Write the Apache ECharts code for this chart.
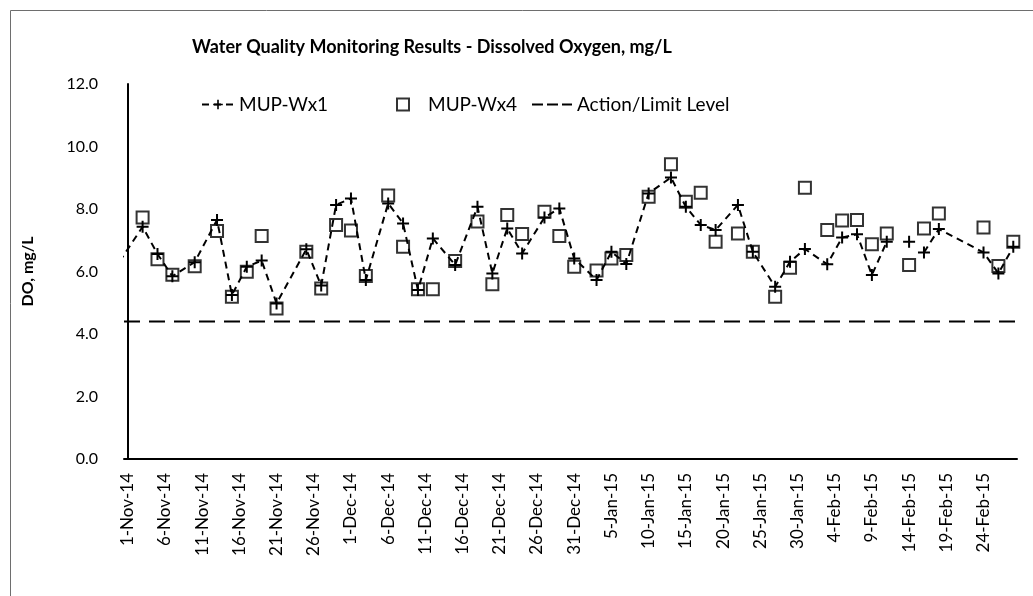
<!DOCTYPE html>
<html>
<head>
<meta charset="utf-8">
<script src="https://cdn.jsdelivr.net/npm/echarts@6/dist/echarts.min.js"></script>
<style>
  html, body { margin: 0; padding: 0; background: #fff; }
  #main { width: 1033px; height: 596px; }
</style>
</head>
<body>
<div id="main"></div>
<script>
// sample dates and DO readings (mg/L)
var wx1Dates = ['2014-10-30','2014-11-03','2014-11-05','2014-11-07','2014-11-10','2014-11-13','2014-11-15','2014-11-17','2014-11-19','2014-11-21',
  '2014-11-25','2014-11-27','2014-11-29','2014-12-01','2014-12-03','2014-12-06','2014-12-08','2014-12-10','2014-12-12','2014-12-15',
  '2014-12-18','2014-12-20','2014-12-22','2014-12-24','2014-12-27','2014-12-29','2014-12-31','2015-01-03','2015-01-05','2015-01-07',
  '2015-01-10','2015-01-13','2015-01-15','2015-01-17','2015-01-19','2015-01-22','2015-01-24','2015-01-27','2015-01-29','2015-01-31',
  '2015-02-03','2015-02-05','2015-02-07','2015-02-09','2015-02-11','2015-02-12','2015-02-14','2015-02-15','2015-02-16','2015-02-18',
  '2015-02-24','2015-02-26','2015-02-28'];
var wx1Values = [6.0,7.43,6.56,5.85,6.3,7.65,5.25,6.15,6.35,4.98,
  6.71,5.55,8.13,8.34,5.73,8.18,7.54,5.41,7.06,6.21,
  8.07,5.94,7.38,6.58,7.73,8.02,6.42,5.73,6.63,6.24,
  8.5,9.01,8.07,7.49,7.33,8.13,6.63,5.51,6.31,6.72,
  6.23,7.09,7.19,5.89,6.95,null,6.95,null,6.61,7.36,
  6.61,5.94,6.79];

var wx4Dates = ['2014-11-03','2014-11-05','2014-11-07','2014-11-10','2014-11-13','2014-11-15','2014-11-17','2014-11-19','2014-11-21',
  '2014-11-25','2014-11-27','2014-11-29','2014-12-01','2014-12-03','2014-12-06','2014-12-08','2014-12-10','2014-12-12','2014-12-15',
  '2014-12-18','2014-12-20','2014-12-22','2014-12-24','2014-12-27','2014-12-29','2014-12-31','2015-01-03','2015-01-05','2015-01-07',
  '2015-01-10','2015-01-13','2015-01-15','2015-01-17','2015-01-19','2015-01-22','2015-01-24','2015-01-27','2015-01-29','2015-01-31',
  '2015-02-03','2015-02-05','2015-02-07','2015-02-09','2015-02-11','2015-02-14','2015-02-16','2015-02-18',
  '2015-02-24','2015-02-26','2015-02-28'];
var wx4Values = [7.73,6.39,5.9,6.17,7.3,5.19,5.99,7.14,4.82,
  6.63,5.46,7.49,7.31,5.86,8.43,6.79,5.43,5.43,6.34,
  7.6,5.59,7.81,7.2,7.91,7.14,6.15,6.03,6.42,6.53,
  8.39,9.43,8.23,8.52,6.95,7.22,6.63,5.19,6.12,8.68,
  7.33,7.63,7.65,6.87,7.22,6.21,7.38,7.86,
  7.41,6.18,6.95];

var actionLevel = 4.4;
var axisStart = '2014-11-01';
var axisDays = 120;
var labelStep = 5;
var months = ['Jan','Feb','Mar','Apr','May','Jun','Jul','Aug','Sep','Oct','Nov','Dec'];

var font = 'Lato, Carlito, "Liberation Sans", sans-serif';
var t0 = Date.parse(axisStart + 'T00:00:00Z');
function dayIdx(s) { return Math.round((Date.parse(s + 'T00:00:00Z') - t0) / 864e5); }
function dayLabel(d) {
  var dt = new Date(t0 + d * 864e5);
  return dt.getUTCDate() + '-' + months[dt.getUTCMonth()] + '-' + String(dt.getUTCFullYear()).slice(2);
}

var wx1Data = wx1Dates.map(function (s, i) { return [dayIdx(s), wx1Values[i]]; });
var wx4Data = wx4Dates.map(function (s, i) { return [dayIdx(s), wx4Values[i]]; });
var labelDays = [];
for (var d = 0; d < axisDays; d += labelStep) labelDays.push(d);

var plus = 'path://M5,0h2v5h5v2h-5v5h-2v-5h-5v-2h5z';
// long dash legend icon (tiny corner specks keep the box size)
var dashIcon = 'path://M0,0h.1v.1h-.1zM0,5h11v2h-11zM15,5h11v2h-11zM30,5h10v2h-10zM39.9,11.9h.1v.1h-.1z';

var myChart = echarts.init(document.getElementById('main'));
myChart.setOption({
  animation: false,
  backgroundColor: '#fff',
  textStyle: { fontFamily: font, color: '#000' },
  title: {
    text: 'Water Quality Monitoring Results - Dissolved Oxygen, mg/L',
    left: 187, top: 33,
    textStyle: { fontFamily: font, fontSize: 18, fontWeight: 'bold', color: '#000' }
  },
  graphic: [{
    type: 'rect', left: 8, top: 8,
    shape: { width: 1100, height: 700 },
    style: { fill: 'none', stroke: '#6e6e6e', lineWidth: 1 }
  }],
  legend: [
    { data: ['MUP-Wx1'], left: 196, top: 90, itemWidth: 32, itemHeight: 12, itemGap: 0,
      textStyle: { fontFamily: font, fontSize: 19, color: '#000' } },
    { data: ['MUP-Wx4'], left: 391, top: 90, itemWidth: 12, itemHeight: 12, itemGap: 0,
      textStyle: { fontFamily: font, fontSize: 19, color: '#000', padding: [0, 0, 0, 14] } },
    { data: [{ name: 'Action/Limit Level', icon: dashIcon }], left: 527, top: 90, itemWidth: 40, itemHeight: 12, itemGap: 0,
      textStyle: { fontFamily: font, fontSize: 19, color: '#000' } }
  ],
  grid: { left: 124, right: 16, top: 84, bottom: 137 },
  xAxis: {
    type: 'value',
    min: -0.5, max: axisDays - 0.5,
    axisLine: { show: true, lineStyle: { color: '#000', width: 2 } },
    axisTick: { show: false },
    splitLine: { show: false },
    axisLabel: {
      customValues: labelDays,
      rotate: 90, margin: 14,
      fontFamily: font, fontSize: 17, color: '#000',
      formatter: function (v) { return dayLabel(v); }
    }
  },
  yAxis: {
    type: 'value', min: 0, max: 12, interval: 2,
    name: 'DO, mg/L', nameLocation: 'middle', nameGap: 88,
    nameTextStyle: { fontFamily: font, fontSize: 16, fontWeight: 'bold', color: '#000' },
    axisLine: { show: true, lineStyle: { color: '#000', width: 2 } },
    axisTick: { show: false },
    splitLine: { show: false },
    axisLabel: { fontFamily: font, fontSize: 16, color: '#000', margin: 26,
      formatter: function (v) { return v.toFixed(1); } }
  },
  series: [
    {
      name: 'MUP-Wx1', type: 'line', data: wx1Data,
      connectNulls: false,
      symbol: plus, symbolSize: 12,
      itemStyle: { color: '#000' },
      lineStyle: { color: '#000', width: 2, type: [7, 5] },
      clip: true, z: 3
    },
    {
      name: 'MUP-Wx4', type: 'scatter', data: wx4Data,
      symbol: 'rect', symbolSize: 12,
      itemStyle: { color: 'rgba(0,0,0,0)', borderColor: '#000', borderWidth: 2 },
      z: 2
    },
    {
      name: 'Action/Limit Level', type: 'line',
      data: [[-0.5, actionLevel], [axisDays - 0.5, actionLevel]],
      symbol: 'none',
      itemStyle: { color: '#000' },
      lineStyle: { color: '#000', width: 2, type: [16, 9] },
      z: 1
    }
  ]
});
</script>
</body>
</html>
